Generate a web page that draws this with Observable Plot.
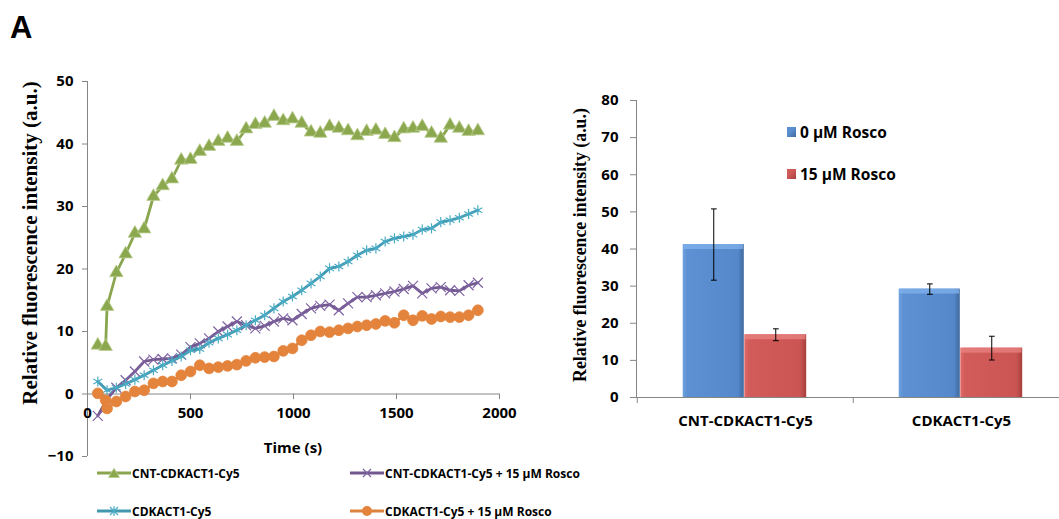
<!DOCTYPE html>
<html><head><meta charset="utf-8">
<script src="https://cdn.jsdelivr.net/npm/d3@7"></script>
<script src="https://cdn.jsdelivr.net/npm/@observablehq/plot@0.6"></script>
<style>
html,body{margin:0;padding:0;background:#fff;}
#wrap{position:relative;width:1059px;height:519px;overflow:hidden;font-family:"Open Sans",sans-serif;color:#000;}
.abs{position:absolute;white-space:nowrap;}
.ctr{transform:translate(-50%,-50%);}
.rot{transform:translate(-50%,-50%) rotate(-90deg);}
.b{font-weight:bold;}
.leg{position:absolute;display:flex;align-items:center;height:16px;font-weight:bold;font-size:12px;white-space:nowrap;}
.leg svg{display:block;margin-right:1px;}
</style></head><body>
<div id="wrap"></div>
<script>
// ---------- Panel A (left): kinetics ----------
const seriesNames = ["CNT-CDKACT1-Cy5", "CNT-CDKACT1-Cy5 + 15 µM Rosco", "CDKACT1-Cy5", "CDKACT1-Cy5 + 15 µM Rosco"];
const times = [50,95,140,185,230,275,320,365,410,455,500,545,590,635,680,725,770,815,860,905,950,995,1040,1085,1130,1175,1220,1265,1310,1355,1400,1445,1490,1535,1580,1625,1670,1715,1760,1805,1850,1895];
const timesExtra = [50,88,95,140,185,230,275,320,365,410,455,500,545,590,635,680,725,770,815,860,905,950,995,1040,1085,1130,1175,1220,1265,1310,1355,1400,1445,1490,1535,1580,1625,1670,1715,1760,1805,1850,1895];
const cntValues = [7.8,7.6,14.0,19.4,22.4,25.7,26.4,31.6,33.3,34.4,37.4,37.5,38.8,39.6,40.4,40.9,40.4,42.4,43.1,43.3,44.4,43.7,44.0,43.3,41.9,41.7,42.8,42.5,42.1,41.3,42.0,42.2,41.5,41.0,42.4,42.5,42.8,41.7,40.9,43.0,42.5,42.0,42.1];
const cntRoscoValues = [-3.5,-0.8,1.0,2.2,3.6,5.2,5.5,5.6,5.7,6.3,7.5,8.1,8.9,10.0,10.8,11.6,11.0,10.5,10.9,11.6,12.1,11.8,12.8,13.7,14.1,14.3,13.4,14.5,15.5,15.5,15.8,16.1,16.4,16.8,17.3,16.1,16.9,17.1,16.6,16.5,17.4,17.8];
const cdkValues = [2.0,0.6,1.0,1.6,2.3,3.0,3.8,4.6,5.3,6.0,7.0,7.2,8.2,8.9,9.5,10.2,11.0,11.8,12.6,13.7,14.8,15.6,16.6,17.7,18.8,20.1,20.4,21.2,22.2,23.0,23.3,24.4,24.9,25.2,25.5,26.3,26.5,27.5,27.8,28.2,28.8,29.4];
const cdkRoscoValues = [0.1,-1.0,-2.3,-1.2,-0.4,0.4,0.6,1.7,2.0,2.0,3.0,3.6,4.6,4.1,4.3,4.5,4.7,5.3,5.8,5.9,6.0,6.9,7.3,8.6,9.4,10.0,9.9,10.2,10.5,10.8,11.0,11.2,11.7,11.4,12.6,11.8,12.5,12.0,12.4,12.3,12.3,12.6,13.4];
const xTicksL = [0, 500, 1000, 1500, 2000];
const yTicksL = [-10, 0, 10, 20, 30, 40, 50];

// ---------- Panel (right): bars ----------
const categories = ["CNT-CDKACT1-Cy5", "CDKACT1-Cy5"];
const conditions = ["0 µM Rosco", "15 µM Rosco"];
const mean0 = [41.2, 29.2];
const err0 = [9.6, 1.4];
const mean15 = [16.9, 13.3];
const err15 = [1.6, 3.2];
const yTicksR = [0, 10, 20, 30, 40, 50, 60, 70, 80];

const wrap = document.getElementById("wrap");
const AX = "#868686";

const styles = [
  {t: timesExtra, v: cntValues, line: "#89A54E", mark: "#8CA84F", edge: "#b9cd8e", symbol: "triangle", r: 5, filled: true},
  {t: times, v: cntRoscoValues, line: "#71588F", mark: "#7F63A1", symbol: "times", r: 4.6, filled: false},
  {t: times, v: cdkValues, line: "#4198AF", mark: "#4BACC6", symbol: "asterisk", r: 4.8, filled: false},
  {t: timesExtra, v: cdkRoscoValues, line: "#DB843D", mark: "#E4843C", edge: "#E4843C", symbol: "circle", r: 5.4, filled: true}
];

const lineMarks = [];
styles.forEach((s, k) => {
  const rows = s.t.map((t, i) => ({series: seriesNames[k], t, v: s.v[i]}));
  lineMarks.push(Plot.line(rows, {x: "t", y: "v", stroke: s.line, strokeWidth: 2.8}));
  lineMarks.push(Plot.dot(rows, {x: "t", y: "v", symbol: s.symbol, r: s.r,
    fill: s.filled ? s.mark : "none", stroke: s.filled ? s.edge : s.mark,
    strokeWidth: s.filled ? 0.8 : 1.2}));
});

const left = Plot.plot({
  width: 540, height: 470,
  marginLeft: 87, marginRight: 41, marginTop: 81, marginBottom: 14,
  x: {domain: [0, 2000], axis: null},
  y: {domain: [-10, 50]},
  style: {fontFamily: "'Open Sans', sans-serif", background: "transparent", overflow: "visible"},
  marks: [
    Plot.ruleX([0], {stroke: AX}),
    Plot.ruleY([0], {stroke: AX}),
    Plot.axisY(yTicksL, {tickSize: 5, tickPadding: 9, stroke: AX, fill: "#000", fontSize: 15, fontWeight: "bold", label: null}),
    Plot.ruleX(xTicksL, {x: d => d, y1: 0, y2: -0.9, stroke: AX}),
    Plot.text(xTicksL, {x: d => d, y: 0, dy: 19, text: d => String(d), fontSize: 15, fontWeight: "bold", fill: "#000"}),
    ...lineMarks
  ]
});
left.style.position = "absolute"; left.style.left = "0px"; left.style.top = "0px";
wrap.appendChild(left);

const rows0 = categories.map((c, i) => ({cat: c, cond: conditions[0], v: mean0[i], e: err0[i]}));
const rows15 = categories.map((c, i) => ({cat: c, cond: conditions[1], v: mean15[i], e: err15[i]}));

const right = Plot.plot({
  width: 510, height: 440,
  marginLeft: 76, marginRight: 1, marginTop: 100, marginBottom: 43,
  x: {domain: categories, padding: 0},
  y: {domain: [0, 80]},
  style: {fontFamily: "'Open Sans', sans-serif", background: "transparent", overflow: "visible"},
  marks: [
    Plot.frame({anchor: "left", stroke: AX}),
    Plot.axisY(yTicksR, {tickSize: 6, tickPadding: 12, stroke: AX, fill: "#000", fontSize: 15, fontWeight: "bold", label: null}),
    Plot.axisX({tickSize: 0, tickPadding: 18, fontSize: 15, fontWeight: "bold", fill: "#000", label: null}),
    Plot.barY(rows0, {x: "cat", y: "v", fill: "url(#gBlue)", insetLeft: 45.7, insetRight: 109.2}),
    Plot.barY(rows15, {x: "cat", y: "v", fill: "url(#gRed)", insetLeft: 107.3, insetRight: 46.8}),
    Plot.barY(rows0, {x: "cat", y1: "v", y2: "v", insetLeft: 46.5, insetRight: 110, insetBottom: -5, fill: "#80b2ec", fillOpacity: 0.75}),
    Plot.barY(rows15, {x: "cat", y1: "v", y2: "v", insetLeft: 108, insetRight: 47.5, insetBottom: -5, fill: "#ea8482", fillOpacity: 0.75}),
    Plot.ruleY([0], {stroke: AX}),
    Plot.ruleX(categories, {x: d => d, y1: 0, y2: -1.6, dx: -108.25, stroke: AX}),
    Plot.link(rows0, {x1: "cat", x2: "cat", y1: d => d.v - d.e, y2: d => d.v + d.e, dx: -31.75, stroke: "#000", strokeWidth: 1, markerStart: "tick", markerEnd: "tick"}),
    Plot.link(rows15, {x1: "cat", x2: "cat", y1: d => d.v - d.e, y2: d => d.v + d.e, dx: 30.25, stroke: "#000", strokeWidth: 1, markerStart: "tick", markerEnd: "tick"})
  ]
});
d3.select(right).insert("defs", ":first-child").html(`
  <linearGradient id="gBlue" x1="0" y1="0" x2="1" y2="0">
    <stop offset="0" stop-color="#6fa2df"/><stop offset="0.07" stop-color="#5d91d3"/>
    <stop offset="0.9" stop-color="#5588ca"/><stop offset="1" stop-color="#41699e"/>
  </linearGradient>
  <linearGradient id="gRed" x1="0" y1="0" x2="1" y2="0">
    <stop offset="0" stop-color="#e06c6a"/><stop offset="0.07" stop-color="#d25c5a"/>
    <stop offset="0.9" stop-color="#cb5553"/><stop offset="1" stop-color="#a8403e"/>
  </linearGradient>`);
right.style.position = "absolute"; right.style.left = "560px"; right.style.top = "0px";
wrap.appendChild(right);

// ---------- texts ----------
function addText(html, x, y, cls, style) {
  const d = document.createElement("div");
  d.className = "abs " + cls;
  d.style.left = x + "px"; d.style.top = y + "px";
  Object.assign(d.style, style || {});
  d.innerHTML = html;
  wrap.appendChild(d);
  return d;
}
addText("A", 10, 12, "b", {fontFamily: "'Liberation Sans', Arial, sans-serif", fontSize: "31px", lineHeight: "31px"});
addText("Relative fluorescence intensity (a.u.)", 30, 243, "rot b", {fontFamily: "'Liberation Serif', 'Times New Roman', serif", fontSize: "21px"});
addText("Time (s)", 293, 447, "ctr b", {fontSize: "15px"});
addText("Relative fluorescence intensity (a.u.)", 580, 245, "rot b", {fontFamily: "'Liberation Serif', 'Times New Roman', serif", fontSize: "17.8px"});

// right legend
const legR = [{c: "#5b8fd1", e: "#41699e", y: 132}, {c: "#d05a58", e: "#a8403e", y: 174}];
legR.forEach((l, i) => {
  const sq = document.createElement("div");
  sq.className = "abs";
  Object.assign(sq.style, {left: "787px", top: (l.y - 5) + "px", width: "9px", height: "10px",
    background: `linear-gradient(135deg, ${l.c} 40%, ${l.e})`});
  wrap.appendChild(sq);
  addText(conditions[i], 800, l.y, "b", {fontSize: "15.5px", transform: "translateY(-52%)"});
});

// left legend
function swatch(k) {
  const s = styles[k];
  const ns = "http://www.w3.org/2000/svg";
  const svg = document.createElementNS(ns, "svg");
  svg.setAttribute("width", 34); svg.setAttribute("height", 14);
  let m = "";
  if (s.symbol === "triangle") m = `<path d="M17,2.2 L22.5,11.5 L11.5,11.5 Z" fill="${s.mark}" stroke="${s.edge}" stroke-width="0.8"/>`;
  if (s.symbol === "times") m = `<path d="M13,3 L21,11 M21,3 L13,11" stroke="${s.mark}" stroke-width="1.2"/>`;
  if (s.symbol === "asterisk") m = `<path d="M13,3 L21,11 M21,3 L13,11 M17,2 L17,12" stroke="${s.mark}" stroke-width="1.2"/>`;
  if (s.symbol === "circle") m = `<circle cx="17" cy="7" r="5" fill="${s.mark}"/>`;
  svg.innerHTML = `<line x1="0" y1="7" x2="34" y2="7" stroke="${s.line}" stroke-width="2.8"/>` + m;
  return svg;
}
const legPos = [{x: 97, y: 473}, {x: 350, y: 473}, {x: 97, y: 511}, {x: 350, y: 511}];
legPos.forEach((p, k) => {
  const d = document.createElement("div");
  d.className = "leg";
  d.style.left = p.x + "px"; d.style.top = (p.y - 8) + "px";
  d.appendChild(swatch(k));
  const sp = document.createElement("span");
  sp.textContent = seriesNames[k];
  d.appendChild(sp);
  wrap.appendChild(d);
});
</script>
</body></html>
